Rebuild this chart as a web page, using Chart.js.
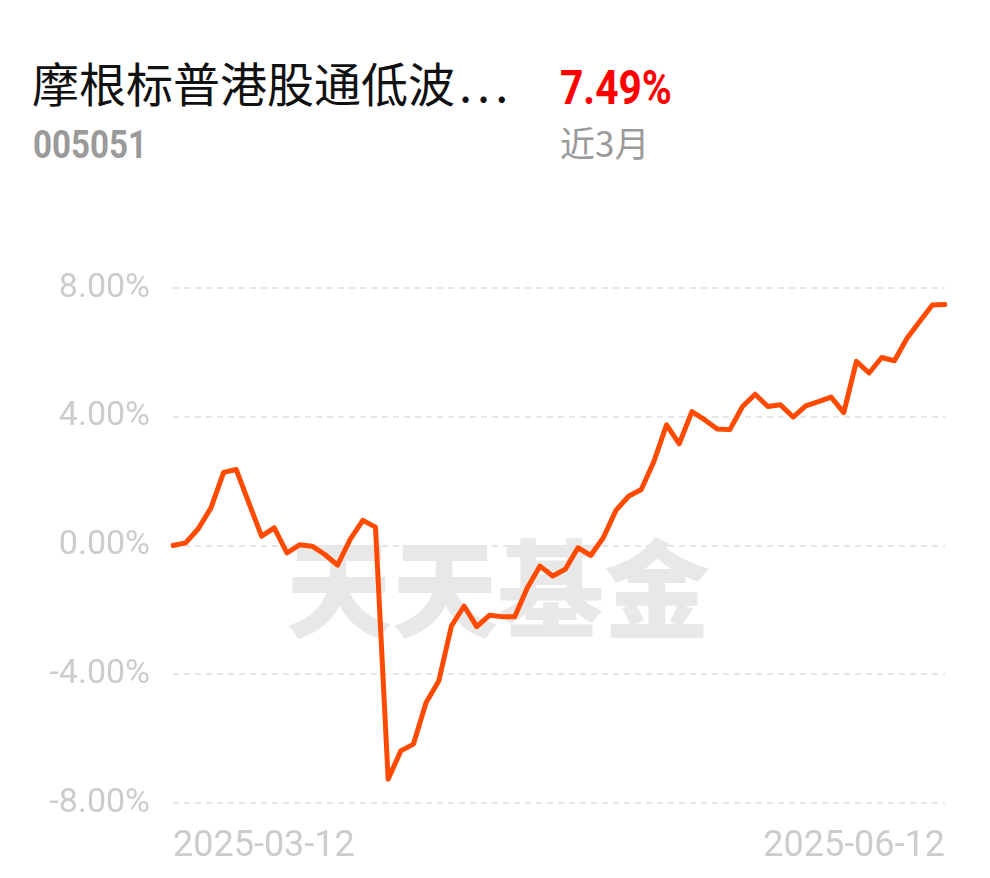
<!DOCTYPE html>
<html>
<head>
<meta charset="utf-8">
<script src="https://cdn.jsdelivr.net/npm/chart.js@4.4.1/dist/chart.umd.min.js"></script>
<style>
  html, body { margin: 0; padding: 0; background: #fff; }
  body { width: 990px; height: 878px; position: relative; overflow: hidden; }
  .txt { position: absolute; white-space: nowrap; line-height: 1; transform-origin: 0 0; }
  #name { left: 32px; top: 47px; font: 47px "Noto Sans CJK SC", sans-serif; color: #111; }
  #name span { letter-spacing: 5px; margin-left: 4px; }
  #code { left: 33px; top: 122px; font: bold 39px Roboto, sans-serif; color: #9a9a9a; transform: scaleX(0.85); }
  #ret { left: 560px; top: 59px; font: bold 49px Roboto, sans-serif; color: #ff0000; transform: scaleX(0.83); }
  #period { left: 560px; top: 116px; font: 35px "Noto Sans CJK SC", sans-serif; color: #9a9a9a; }
  #mark { left: 286px; top: 506px; font: 900 106px "Noto Sans CJK SC", serif; color: #e8e8e8; }
  #wrap { position: absolute; left: 0; top: 230px; width: 990px; height: 648px; }
</style>
</head>
<body>
<div class="txt" id="name">摩根标普港股通低波<span>...</span></div>
<div class="txt" id="code">005051</div>
<div class="txt" id="ret">7.49%</div>
<div class="txt" id="period">近3月</div>
<div class="txt" id="mark">天天基金</div>
<div id="wrap"><canvas id="chart" width="990" height="648"></canvas></div>

<script>
// dates (trading days)
const dates = [
    '2025-03-12', '2025-03-13', '2025-03-14', '2025-03-17', '2025-03-18', '2025-03-19', '2025-03-20',
    '2025-03-21', '2025-03-24', '2025-03-25', '2025-03-26', '2025-03-27', '2025-03-28', '2025-03-31',
    '2025-04-01', '2025-04-02', '2025-04-03', '2025-04-07', '2025-04-08', '2025-04-09', '2025-04-10',
    '2025-04-11', '2025-04-14', '2025-04-15', '2025-04-16', '2025-04-17', '2025-04-18', '2025-04-21',
    '2025-04-22', '2025-04-23', '2025-04-24', '2025-04-25', '2025-04-28', '2025-04-29', '2025-04-30',
    '2025-05-06', '2025-05-07', '2025-05-08', '2025-05-09', '2025-05-12', '2025-05-13', '2025-05-14',
    '2025-05-15', '2025-05-16', '2025-05-19', '2025-05-20', '2025-05-21', '2025-05-22', '2025-05-23',
    '2025-05-26', '2025-05-27', '2025-05-28', '2025-05-29', '2025-05-30', '2025-06-03', '2025-06-04',
    '2025-06-05', '2025-06-06', '2025-06-09', '2025-06-10', '2025-06-11', '2025-06-12'
];

// cumulative return (%)
const returns = [
    0.00, 0.08, 0.52, 1.17, 2.27, 2.36, 1.32, 0.29, 0.55, -0.23, 0.02,
    -0.02, -0.28, -0.61, 0.19, 0.78, 0.57, -7.26, -6.38, -6.17, -4.88, -4.21,
    -2.50, -1.88, -2.52, -2.17, -2.21, -2.21, -1.31, -0.64, -0.95, -0.74, -0.07,
    -0.31, 0.24, 1.09, 1.53, 1.74, 2.61, 3.75, 3.16, 4.16, 3.91, 3.62,
    3.60, 4.32, 4.70, 4.32, 4.37, 3.99, 4.34, 4.47, 4.61, 4.13, 5.72,
    5.36, 5.84, 5.74, 6.44, 6.96, 7.47, 7.49
];

const yTicks = [-8, -4, 0, 4, 8];

const axisColor = '#cccccc';

new Chart(document.getElementById('chart').getContext('2d'), {
    type: 'line',
    data: {
        labels: dates,
        datasets: [{
            data: returns,
            borderColor: '#ff4a00',
            borderWidth: 5,
            borderJoinStyle: 'round',
            borderCapStyle: 'round',
            pointRadius: 0,
            tension: 0,
            fill: false
        }]
    },
    options: {
        responsive: false,
        animation: false,
        layout: { padding: { top: 58, right: 45, left: 0, bottom: 0 } },
        plugins: { legend: { display: false }, tooltip: { enabled: false } },
        scales: {
            x: {
                grid: { display: false },
                border: { display: false },
                afterFit: (s) => { s.height = 75; },
                ticks: {
                    autoSkip: false,
                    maxRotation: 0,
                    align: 'inner',
                    padding: 14,
                    color: axisColor,
                    font: { family: 'Roboto', size: 36 },
                    callback: (v, i) => (i === 0 || i === dates.length - 1) ? dates[i] : ''
                }
            },
            y: {
                min: -8,
                max: 8,
                afterBuildTicks: (s) => { s.ticks = yTicks.map(v => ({ value: v })); },
                afterFit: (s) => { s.width = 173; },
                border: { display: false, dash: [6, 5] },
                grid: { color: '#e6e6e6', lineWidth: 2, drawTicks: false },
                ticks: {
                    padding: 23,
                    color: axisColor,
                    font: { family: 'Roboto', size: 34 },
                    callback: (v) => v.toFixed(2) + '%'
                }
            }
        }
    }
});
</script>
</body>
</html>
